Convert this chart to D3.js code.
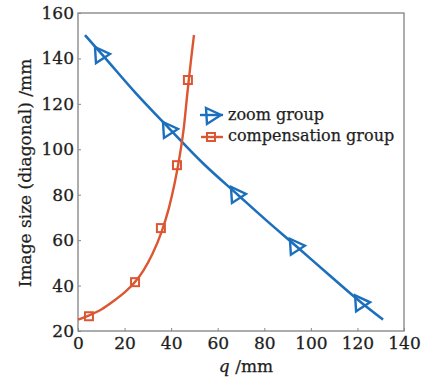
<!DOCTYPE html>
<html><head><meta charset="utf-8">
<script src="https://cdn.jsdelivr.net/npm/d3@7"></script>
<style>body{margin:0;background:#fff}svg{display:block}</style>
</head><body><svg id="c" width="427" height="384"></svg>
<script>
// Zoom group: smooth fitted curve and markers
const zoomCurve = [[3,150.3],[10.3,141.8],[25,124.5],[39.5,108.8],[54,93.5],[68.7,79.9],[81,68.6],[94,57.1],[108,44.5],[122,32.2],[131,25]];
const zoomPts = [[10.3,141.5],[39.5,108.5],[68.7,79.9],[94,57.1],[122,32.2]];
// Compensation group: smooth curve and markers
const compCurve = [[0,25],[5,27],[10,29.5],[15,33],[20,37],[24,41],[28,46.5],[32,54],[36,64],[39,74],[41.5,85],[43.5,96],[45.5,110],[47,125],[48.5,139],[49.8,150.3]];
const compPts = [[4.7,26.5],[24.5,41.5],[35.6,65.3],[42.5,93],[47.2,130.5]];
const xTicks = [0,20,40,60,80,100,120,140];
const yTicks = [20,40,60,80,100,120,140,160];
const seriesNames = ["zoom group","compensation group"];

const BLUE = "#1c6fbc", ORANGE = "#dc5631", TXT = "#1e1e1e";
const FONT = "DejaVu Serif";
const svg = d3.select("#c");
const L=78, R=404, T=13, B=331;
const x = d3.scaleLinear().domain([0,140]).range([L,R]);
const y = d3.scaleLinear().domain([20,160]).range([B,T]);

// frame
svg.append("rect").attr("x",L).attr("y",T).attr("width",R-L).attr("height",B-T)
  .attr("fill","none").attr("stroke","#777").attr("stroke-width",1.2);

const xa = svg.append("g").attr("transform",`translate(0,${B})`)
  .call(d3.axisBottom(x).tickValues(xTicks).tickSize(-3).tickPadding(6));
const ya = svg.append("g").attr("transform",`translate(${L},0)`)
  .call(d3.axisLeft(y).tickValues(yTicks).tickSize(-3).tickPadding(4));
[xa,ya].forEach(a=>{
  a.select(".domain").remove();
  a.selectAll("line").attr("stroke","#888");
  a.selectAll("text").attr("font-family",FONT).attr("font-size",17).attr("fill",TXT)
   .attr("stroke",TXT).attr("stroke-width",0.3);
});

const line = d3.line().x(d=>x(d[0])).y(d=>y(d[1])).curve(d3.curveMonotoneX);
svg.append("path").datum(zoomCurve).attr("d",line).attr("fill","none").attr("stroke",BLUE).attr("stroke-width",2.6);
svg.append("path").datum(compCurve).attr("d",line).attr("fill","none").attr("stroke",ORANGE).attr("stroke-width",2.4);

function tri(g,cx,cy){
  g.append("path").attr("d",`M${cx-7},${cy-8}L${cx+8},${cy-1}L${cx-6},${cy+8}Z`)
   .attr("fill","none").attr("stroke",BLUE).attr("stroke-width",2.4).attr("stroke-linejoin","miter");
}
function sq(g,cx,cy){
  g.append("rect").attr("x",cx-4).attr("y",cy-4).attr("width",8).attr("height",8)
   .attr("fill","none").attr("stroke",ORANGE).attr("stroke-width",2);
}
const mk = svg.append("g");
zoomPts.forEach(d=>tri(mk,x(d[0]),y(d[1])));
compPts.forEach(d=>sq(mk,x(d[0]),y(d[1])));

// legend
const lg = svg.append("g");
lg.append("line").attr("x1",200).attr("x2",223).attr("y1",115).attr("y2",115).attr("stroke",BLUE).attr("stroke-width",2.4);
tri(lg,213,116);
lg.append("line").attr("x1",201).attr("x2",223).attr("y1",137).attr("y2",137).attr("stroke",ORANGE).attr("stroke-width",2.4);
sq(lg,211,137);
lg.selectAll("text").data(seriesNames).join("text")
  .attr("x",228).attr("y",(d,i)=>120+i*21).text(d=>d)
  .attr("font-family",FONT).attr("font-size",16).attr("fill",TXT).attr("stroke",TXT).attr("stroke-width",0.25);

// axis titles
const xt = svg.append("text").attr("x",246).attr("y",372).attr("text-anchor","middle")
  .attr("font-family",FONT).attr("font-size",17).attr("fill",TXT).attr("stroke",TXT).attr("stroke-width",0.25);
xt.append("tspan").attr("font-style","italic").text("q");
xt.append("tspan").text(" /mm");
svg.append("text").attr("transform","translate(31,173) rotate(-90)").attr("text-anchor","middle")
  .attr("font-family",FONT).attr("font-size",17).attr("fill",TXT).attr("stroke",TXT).attr("stroke-width",0.25)
  .text("Image size (diagonal) /mm");
</script></body></html>
